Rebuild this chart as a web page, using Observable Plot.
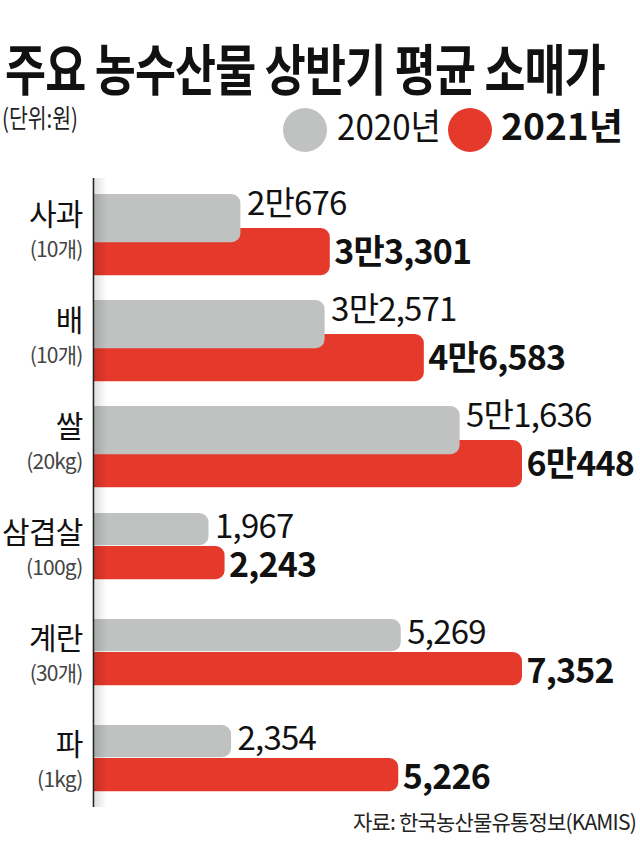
<!DOCTYPE html>
<html>
<head>
<meta charset="utf-8">
<script src="https://cdn.jsdelivr.net/npm/d3@7"></script>
<script src="https://cdn.jsdelivr.net/npm/@observablehq/plot@0.6"></script>
<style>
  html, body { margin: 0; padding: 0; background: #fff; }
  body { width: 640px; height: 859px; overflow: hidden; font-family: "Noto Sans CJK KR", "Noto Sans", sans-serif; color: #111; }
  #header { position: relative; height: 170px; }
  .fit { position: absolute; line-height: 1; white-space: nowrap; transform-origin: 0 0; }
  #title { left: 5px; top: 39px; font-size: 55px; font-weight: 700; letter-spacing: -1px; }
  #unit { left: 2px; top: 104px; font-size: 26px; font-weight: 400; color: #222; }
  .sw { position: absolute; top: 108px; width: 44px; height: 44px; border-radius: 50%; }
  .lg { top: 106px; font-size: 36px; }
  #chart svg text { letter-spacing: -0.8px; }
  #caption { text-align: right; padding-right: 4px; font-size: 21px; letter-spacing: -0.8px; line-height: 1; margin-top: 1px; color: #222; }
</style>
</head>
<body>
<div id="header">
  <div id="title" class="fit" data-w="600">주요 농수산물 상반기 평균 소매가</div>
  <div id="unit" class="fit" data-w="76">(단위:원)</div>
  <div class="sw" style="left:283px; background:#c0c1c1;"></div>
  <div class="fit lg" data-w="104" style="left:337px; font-weight:400;">2020년</div>
  <div class="sw" style="left:448px; background:#e53a2b;"></div>
  <div class="fit lg" data-w="122" style="left:501px; font-weight:700;">2021년</div>
</div>
<div id="chart"></div>
<div id="caption">자료: 한국농산물유통정보(KAMIS)</div>
<script>
// ---- data ----
const categories = ["사과", "배", "쌀", "삼겹살", "계란", "파"];
const units = ["(10개)", "(10개)", "(20kg)", "(100g)", "(30개)", "(1kg)"];
const values2020 = [20676, 32571, 51636, 1967, 5269, 2354];
const values2021 = [33301, 46583, 60448, 2243, 7352, 5226];
// bars are scaled within each price group (만원 단위 / 원 단위)
const groups = ["A", "A", "A", "B", "B", "B"];
const colors = { y2020: "#c0c1c1", y2021: "#e53a2b" };

// condensed header texts: fit to the reference widths
document.querySelectorAll(".fit").forEach(el => {
  const w = el.getBoundingClientRect().width;
  const target = +el.dataset.w;
  if (w > 0) el.style.transform = `scaleX(${target / w})`;
});

// ---- build table ----
const rows = categories.map((c, i) => ({
  cat: c, unit: units[i], group: groups[i], v20: values2020[i], v21: values2021[i]
}));
const gmax = d3.rollup(rows, r => d3.max(r, d => Math.max(d.v20, d.v21)), d => d.group);
rows.forEach(d => { d.n20 = d.v20 / gmax.get(d.group); d.n21 = d.v21 / gmax.get(d.group); });

const won = v => v >= 10000
  ? `${Math.floor(v / 10000)}만${d3.format(",")(v % 10000)}`
  : d3.format(",")(v);

// per-group geometry inside each category band
const geo = {
  A: { gray: [0, 57.8], red: [34, 24.8], dy20: -43, dy21: 6 },
  B: { gray: [1, 72.8], red: [34, 38.8], dy20: -38, dy21: 1 }
};

const marks = [];
for (const g of ["A", "B"]) {
  const d = rows.filter(r => r.group === g);
  const G = geo[g];
  marks.push(
    Plot.barX(d, { x: "n21", y: "cat", fill: colors.y2021, insetTop: G.red[0], insetBottom: G.red[1], insetLeft: -12, rx: 9, clip: true }),
    Plot.barX(d, { x: "n20", y: "cat", fill: colors.y2020, insetTop: G.gray[0], insetBottom: G.gray[1], insetLeft: -12, rx: 9, clip: true }),
    Plot.text(d, { x: "n20", y: "cat", text: r => won(r.v20), textAnchor: "start", dx: 6, dy: G.dy20, fontSize: 33, fontWeight: 400, fill: "#111" }),
    Plot.text(d, { x: "n21", y: "cat", text: r => won(r.v21), textAnchor: "start", dx: 4, dy: G.dy21, fontSize: 34, fontWeight: 700, fill: "#111" })
  );
}
// axis shadow
for (let i = 1; i <= 12; i++) {
  marks.push(Plot.ruleX([0], { stroke: "#000", strokeOpacity: 0.13 * (1 - i / 13), strokeWidth: 1, dx: i - 0.5 }));
}
marks.push(Plot.ruleX([0], { stroke: "#222", strokeWidth: 1.6, dx: -1 }));
// category labels
marks.push(
  Plot.text(rows, { y: "cat", text: "cat", frameAnchor: "left", textAnchor: "end", dx: -12, dy: -32, fontSize: 30, fill: "#111" }),
  Plot.text(rows, { y: "cat", text: "unit", frameAnchor: "left", textAnchor: "end", dx: -12, dy: 3, fontSize: 21, fill: "#444" })
);

const chart = Plot.plot({
  width: 640,
  height: 640,
  marginLeft: 94,
  marginRight: 118,
  marginTop: 8,
  marginBottom: 3,
  style: { fontFamily: "'Noto Sans CJK KR', 'Noto Sans', sans-serif", background: "transparent", overflow: "visible" },
  x: { domain: [0, 1], axis: null },
  y: { type: "band", domain: categories, range: [21, 662], padding: 0, axis: null },
  marks
});
document.getElementById("chart").appendChild(chart);
</script>
</body>
</html>
